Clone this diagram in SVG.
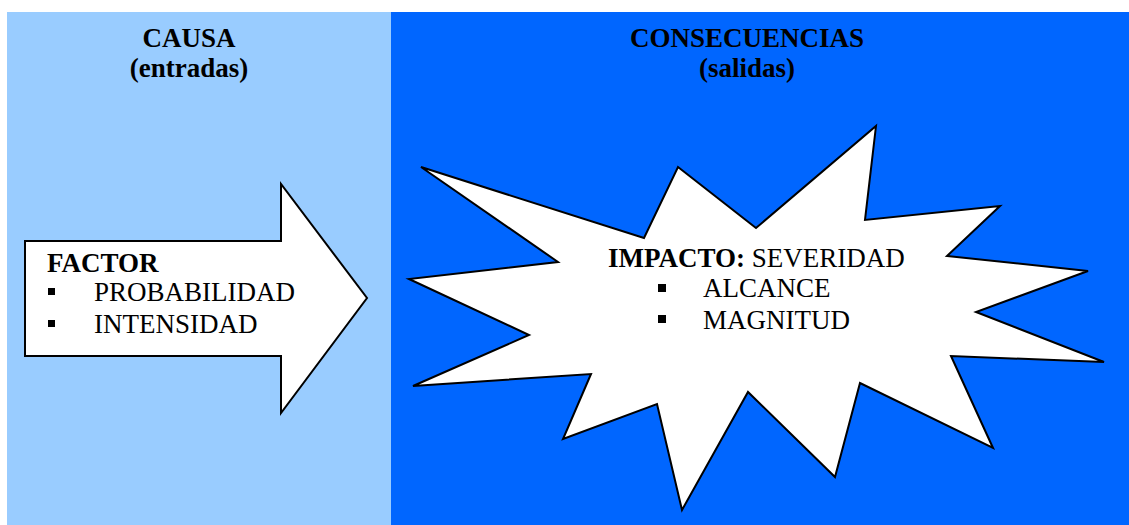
<svg xmlns="http://www.w3.org/2000/svg" width="1129" height="525" viewBox="0 0 1129 525">
<style>
text{font-family:"Liberation Serif","Times New Roman",serif;font-size:27px;fill:#000}
.b{font-weight:bold}
.shape{fill:#fff;stroke:#000;stroke-width:2;stroke-linejoin:miter}
.bul{fill:#000}
</style>
<rect x="0" y="0" width="1129" height="525" fill="#fff"/>
<g id="panel-causa">
<rect x="7" y="12" width="384" height="513" fill="#99CCFF"/>
<text class="b" x="189" y="47" text-anchor="middle">CAUSA</text>
<text class="b" x="189" y="77" text-anchor="middle">(entradas)</text>
</g>
<g id="panel-consecuencias">
<rect x="391" y="12" width="738" height="513" fill="#0066FF"/>
<text class="b" x="747" y="47" text-anchor="middle">CONSECUENCIAS</text>
<text class="b" x="747" y="77" text-anchor="middle">(salidas)</text>
</g>
<g id="connectors"></g>
<g id="factor">
<polygon class="shape" points="25,241 281,241 281,184 367,298 281,413 281,356 25,356"/>
<text class="b" x="47" y="272">FACTOR</text>
<rect class="bul" x="48" y="288" width="7" height="7"/>
<text x="94" y="301">PROBABILIDAD</text>
<rect class="bul" x="48" y="320" width="7" height="7"/>
<text x="94" y="333">INTENSIDAD</text>
</g>
<g id="impacto">
<polygon class="shape" points="421,167 644,238 678,167 756,228 876,126 865,220 1000,206 947,256 1088,271 976,312 1104,362 951,356 993,448 860,383 835,477 748,392 682,510 657,404 563,439 591,374 413,386 529,335 409,279 558,262"/>
<text x="608" y="267"><tspan class="b">IMPACTO:</tspan> SEVERIDAD</text>
<rect class="bul" x="658" y="284" width="8" height="8"/>
<text x="703" y="297">ALCANCE</text>
<rect class="bul" x="658" y="315" width="8" height="8"/>
<text x="703" y="329">MAGNITUD</text>
</g>
</svg>
